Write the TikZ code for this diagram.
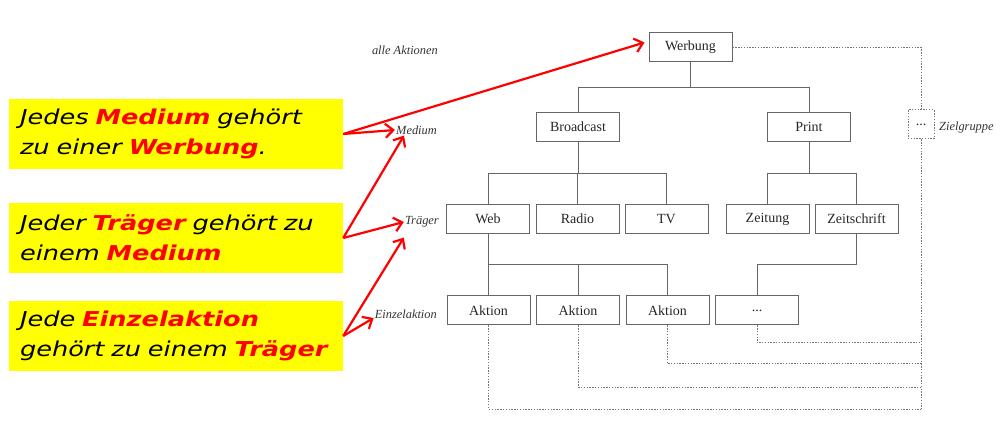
\documentclass[tikz,border=0pt]{standalone}
\usepackage{fontspec}
\setmainfont{Liberation Serif}
\newfontfamily\callfont[FakeStretch=1.25]{DejaVu Sans}
\usetikzlibrary{arrows.meta}
\definecolor{boxline}{HTML}{666666}
\definecolor{dotgrey}{HTML}{777777}
\definecolor{callyellow}{HTML}{FFFF00}
\definecolor{callred}{HTML}{FF0000}
\newcommand{\hl}[1]{\textcolor{callred}{\bfseries #1}}

\begin{document}
\begin{tikzpicture}[x=1pt,y=-1pt,
  box/.style={draw=boxline,line width=1pt,minimum width=83pt,minimum height=29pt,inner sep=0pt,font=\fontsize{14}{16}\selectfont,text=black!85},
  lvl/.style={font=\fontsize{12.4}{14}\selectfont\itshape,inner sep=1pt,text=black!80},
  tree/.style={draw=boxline,line width=1pt},
  dotline/.style={draw=dotgrey,line width=1pt,dash pattern=on 1.4pt off 1.4pt},
  call/.style={fill=callyellow,minimum width=334pt,minimum height=70pt,text width=312pt,align=left,inner sep=0pt,font=\callfont\itshape\fontsize{20.5}{30}\selectfont},
  redarrow/.style={draw=callred,line width=2.2pt,-{Straight Barb[length=8pt,width=14pt]}}]
\useasboundingbox (0,0) rectangle (1007,430);

% callouts
\node[call] (call1) at (176,134) {Jedes \hl{Medium} gehört\\zu einer \hl{Werbung}.};
\node[call] (call2) at (176,238) {Jeder \hl{Träger} gehört zu\\einem \hl{Medium}};
\node[call] (call3) at (176,336) {Jede \hl{Einzelaktion}\\gehört zu einem \hl{Träger}};

% levels
\node[lvl,anchor=east] (lall) at (439,50) {alle Aktionen};
\node[lvl,anchor=east] (lmed) at (438,130) {Medium};
\node[lvl,anchor=east] (ltrag) at (440,222) {Träger};
\node[lvl,anchor=east] (lein) at (438,314) {Einzelaktion};
\node[lvl,anchor=west] (lziel) at (938,128) {Zielgruppe};

% boxes
\node[box] (werb) at (690.5,47.5) {Werbung};
\node[box] (bcast) at (578,127) {Broadcast};
\node[box] (print) at (809,127) {Print};
\node[box] (web) at (488,219) {Web};
\node[box] (radio) at (577.5,219) {Radio};
\node[box] (tv) at (666.5,219) {TV};
\node[box] (zeit) at (767.5,219) {Zeitung};
\node[box] (zschr) at (856.5,219) {Zeitschrift};
\node[box] (akt1) at (488.5,310.5) {Aktion};
\node[box] (akt2) at (578,310.5) {Aktion};
\node[box] (akt3) at (667.5,310.5) {Aktion};
\node[box] (mehr) at (757,310.5) {...};
\node[box,dotline,minimum width=26pt] (ziel) at (921,124.5) {...};

% tree
\draw[tree] (werb.south) -- ++(0,25) -| (bcast.north);
\draw[tree] (werb.south) -- ++(0,25) -| (print.north);
\foreach \c in {web,radio,tv}
  \draw[tree] (bcast.south) -- ++(0,31.5) -| (\c.north);
\foreach \c in {zeit,zschr}
  \draw[tree] (print.south) -- ++(0,31.5) -| (\c.north);
\foreach \c in {akt1,akt2,akt3}
  \draw[tree] (web.south) -- ++(0,30.5) -| (\c.north);
\draw[tree] (zschr.south) -- ++(0,30.5) -| (mehr.north);

% Zielgruppe
\coordinate (zend) at (921,409);
\draw[dotline] (werb.east) -| (ziel.north);
\draw[dotline] (ziel.south) -- (zend);
\foreach \n/\y in {mehr/343,akt3/364,akt2/387,akt1/409}
  \draw[dotline] (\n.south) |- (zend |- 0,\y);

% arrows
\draw[redarrow] (call1.east) -- ([xshift=-4pt,yshift=5pt]werb.west);
\draw[redarrow] (call1.east) -- (lmed.west);
\draw[redarrow] (call2.east) -- ([xshift=9pt]lmed.south west);
\draw[redarrow] (call2.east) -- (ltrag.west);
\draw[redarrow] (call3.east) -- ([yshift=-9pt]ltrag.south west);
\draw[redarrow] (call3.east) -- ([yshift=-4pt]lein.west);
\end{tikzpicture}
\end{document}
